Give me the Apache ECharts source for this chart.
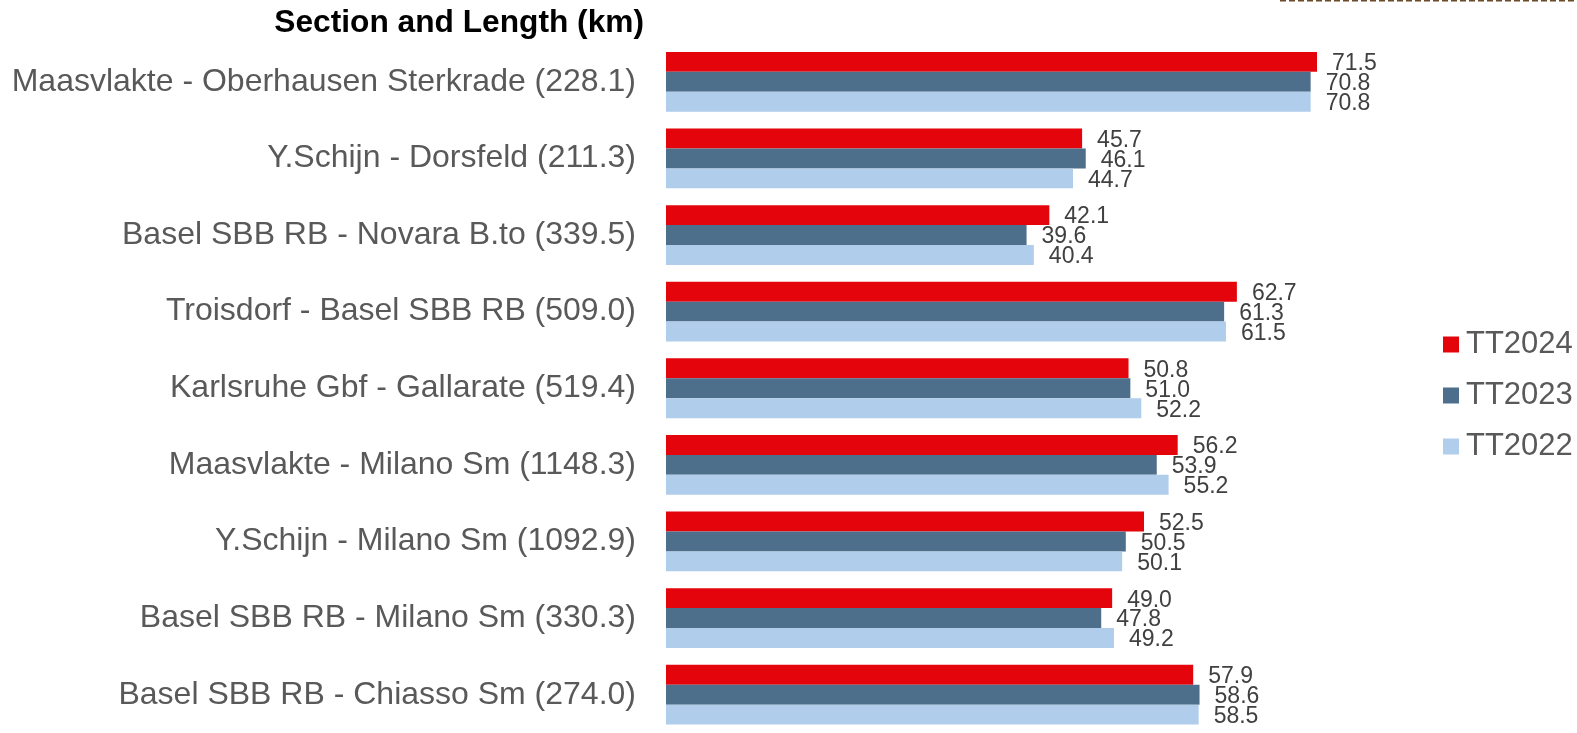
<!DOCTYPE html>
<html>
<head>
<meta charset="utf-8">
<script src="https://cdn.jsdelivr.net/npm/echarts@6/dist/echarts.min.js"></script>
<style>
html,body{margin:0;padding:0;background:#fff;}
#chart{width:1577px;height:733px;}
</style>
</head>
<body>
<div id="chart"></div>
<script>
const categories = [
  'Maasvlakte - Oberhausen Sterkrade (228.1)',
  'Y.Schijn - Dorsfeld (211.3)',
  'Basel SBB RB - Novara B.to (339.5)',
  'Troisdorf - Basel SBB RB (509.0)',
  'Karlsruhe Gbf - Gallarate (519.4)',
  'Maasvlakte - Milano Sm (1148.3)',
  'Y.Schijn - Milano Sm (1092.9)',
  'Basel SBB RB - Milano Sm (330.3)',
  'Basel SBB RB - Chiasso Sm (274.0)'
];
const tt2024 = [71.5, 45.7, 42.1, 62.7, 50.8, 56.2, 52.5, 49.0, 57.9];
const tt2023 = [70.8, 46.1, 39.6, 61.3, 51.0, 53.9, 50.5, 47.8, 58.6];
const tt2022 = [70.8, 44.7, 40.4, 61.5, 52.2, 55.2, 50.1, 49.2, 58.5];
const seriesNames = ['TT2024', 'TT2023', 'TT2022'];
const titleText = 'Section and Length (km)';

const FONT = 'Liberation Sans, Arial, sans-serif';
const colors = ['#E3050B', '#4E6F8C', '#B0CDEB'];

const chart = echarts.init(document.getElementById('chart'));
const mk = (name, data, i) => ({
  name: name,
  type: 'bar',
  data: data,
  barGap: '0%',
  barCategoryGap: '22%',
  itemStyle: { color: colors[i] },
  label: {
    show: true,
    position: 'right',
    distance: 15,
    offset: [0, 2],
    formatter: p => p.value.toFixed(1),
    color: '#404040',
    fontFamily: FONT,
    fontSize: 23
  },
  emphasis: { disabled: true }
});
chart.setOption({
  animation: false,
  grid: { left: 666, top: 43.5, width: 728.4, height: 693, containLabel: false },
  xAxis: {
    type: 'value', min: 0, max: 80, show: false
  },
  yAxis: {
    type: 'category',
    data: categories,
    inverse: true,
    axisLine: { show: false },
    axisTick: { show: false },
    axisLabel: { color: '#595959', fontSize: 32, fontFamily: FONT, margin: 30 }
  },
  legend: {
    orient: 'vertical',
    left: 1438,
    top: 324,
    itemWidth: 16,
    itemHeight: 16,
    itemGap: 20,
    icon: 'rect',
    data: seriesNames,
    textStyle: { color: '#595959', fontSize: 31, lineHeight: 31, fontFamily: FONT, padding: [0, 0, 0, 2] }
  },
  graphic: [
    {
      type: 'text',
      x: 644, y: 23,
      style: {
        text: titleText,
        fill: '#000',
        font: 'bold 31.7px ' + FONT,
        textAlign: 'right',
        textVerticalAlign: 'middle'
      }
    },
    {
      type: 'line',
      shape: { x1: 1280, y1: 0.5, x2: 1577, y2: 0.5 },
      style: { stroke: '#6b4a2a', lineWidth: 2, lineDash: [6, 3] }
    }
  ],
  series: [mk(seriesNames[0], tt2024, 0), mk(seriesNames[1], tt2023, 1), mk(seriesNames[2], tt2022, 2)]
});
</script>
</body>
</html>
